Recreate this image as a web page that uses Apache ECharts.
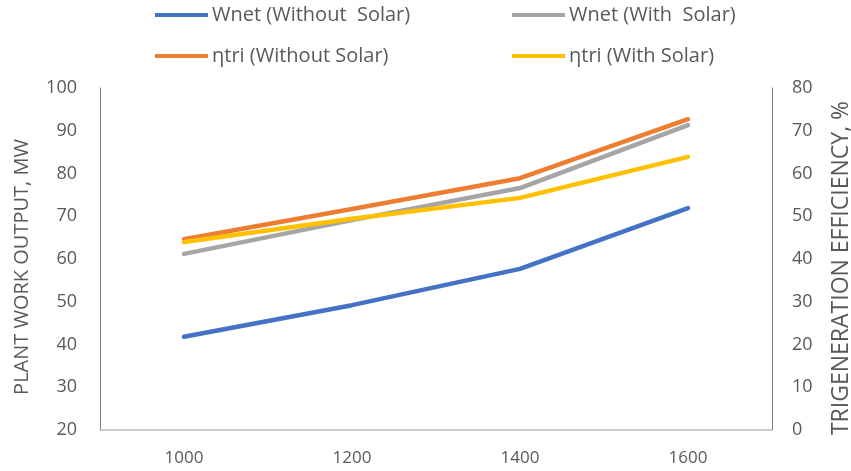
<!DOCTYPE html>
<html><head><meta charset="utf-8">
<script src="https://cdn.jsdelivr.net/npm/echarts@6/dist/echarts.min.js"></script>
<style>html,body{margin:0;padding:0;background:#fff}#c{width:851px;height:471px}</style>
</head><body><div id="c"></div>
<script>
var categories = ['1000', '1200', '1400', '1600'];
var wnetWithout = [41.8, 49.2, 57.7, 71.9];
var wnetWith = [61.2, 69.1, 76.6, 91.3];
var etaWithout = [44.6, 51.7, 58.9, 72.7];
var etaWith = [44.0, 49.4, 54.3, 63.9];
var seriesNames = ['Wnet (Without  Solar)', 'Wnet (With  Solar)', 'ηtri (Without Solar)', 'ηtri (With Solar)'];
var colors = ['#4472C4', '#A5A5A5', '#ED7D31', '#FFC000'];

var font = '"Open Sans", sans-serif';
var txt = '#595959';
function legendAt(name, left, top) {
  return {
    data: [name], left: left, top: top, icon: 'rect', itemWidth: 53, itemHeight: 4, itemGap: 0,
    textStyle: { color: txt, fontSize: 20, fontFamily: font, padding: [0, 0, 0, -1] }
  };
}
function mk(name, data, color, yIdx) {
  return {
    name: name, type: 'line', data: data, yAxisIndex: yIdx, showSymbol: false, symbol: 'none',
    lineStyle: { color: color, width: 4.5, cap: 'round', join: 'round' },
    itemStyle: { color: color }
  };
}
var chart = echarts.init(document.getElementById('c'));
chart.setOption({
  animation: false,
  textStyle: { fontFamily: font },
  legend: [
    legendAt(seriesNames[0], 150, 0),
    legendAt(seriesNames[1], 507, 0),
    legendAt(seriesNames[2], 150, 41),
    legendAt(seriesNames[3], 507, 41)
  ],
  grid: { left: 100, right: 79, top: 88, bottom: 41, outerBoundsMode: 'none', containLabel: false },
  xAxis: {
    type: 'category', data: categories, boundaryGap: true,
    axisLine: { lineStyle: { color: '#BFBFBF', width: 1.5 } },
    axisTick: { show: false },
    axisLabel: { color: txt, fontSize: 17, fontFamily: font, margin: 20 },
    splitLine: { show: false }
  },
  yAxis: [
    {
      type: 'value', min: 20, max: 100, interval: 10, position: 'left',
      name: 'PLANT WORK OUTPUT, MW', nameLocation: 'middle', nameGap: 68, nameRotate: 90,
      nameTextStyle: { color: txt, fontSize: 20, fontFamily: font, padding: [0, 16, 0, 0] },
      axisLine: { show: true, lineStyle: { color: '#7F7F7F', width: 1 } },
      axisTick: { show: false },
      axisLabel: { color: txt, fontSize: 18, fontFamily: font, margin: 23 },
      splitLine: { show: false }
    },
    {
      type: 'value', min: 0, max: 80, interval: 10, position: 'right',
      name: 'TRIGENERATION EFFICIENCY, %', nameLocation: 'middle', nameGap: 58, nameRotate: 90,
      nameTextStyle: { color: txt, fontSize: 23, fontFamily: font, padding: [0, 18, 0, 0] },
      axisLine: { show: true, lineStyle: { color: '#7F7F7F', width: 1 } },
      axisTick: { show: false },
      axisLabel: { color: txt, fontSize: 18, fontFamily: font, margin: 20 },
      splitLine: { show: false }
    }
  ],
  series: [
    mk(seriesNames[0], wnetWithout, colors[0], 0),
    mk(seriesNames[1], wnetWith, colors[1], 0),
    mk(seriesNames[2], etaWithout, colors[2], 1),
    mk(seriesNames[3], etaWith, colors[3], 1)
  ]
});
</script></body></html>
